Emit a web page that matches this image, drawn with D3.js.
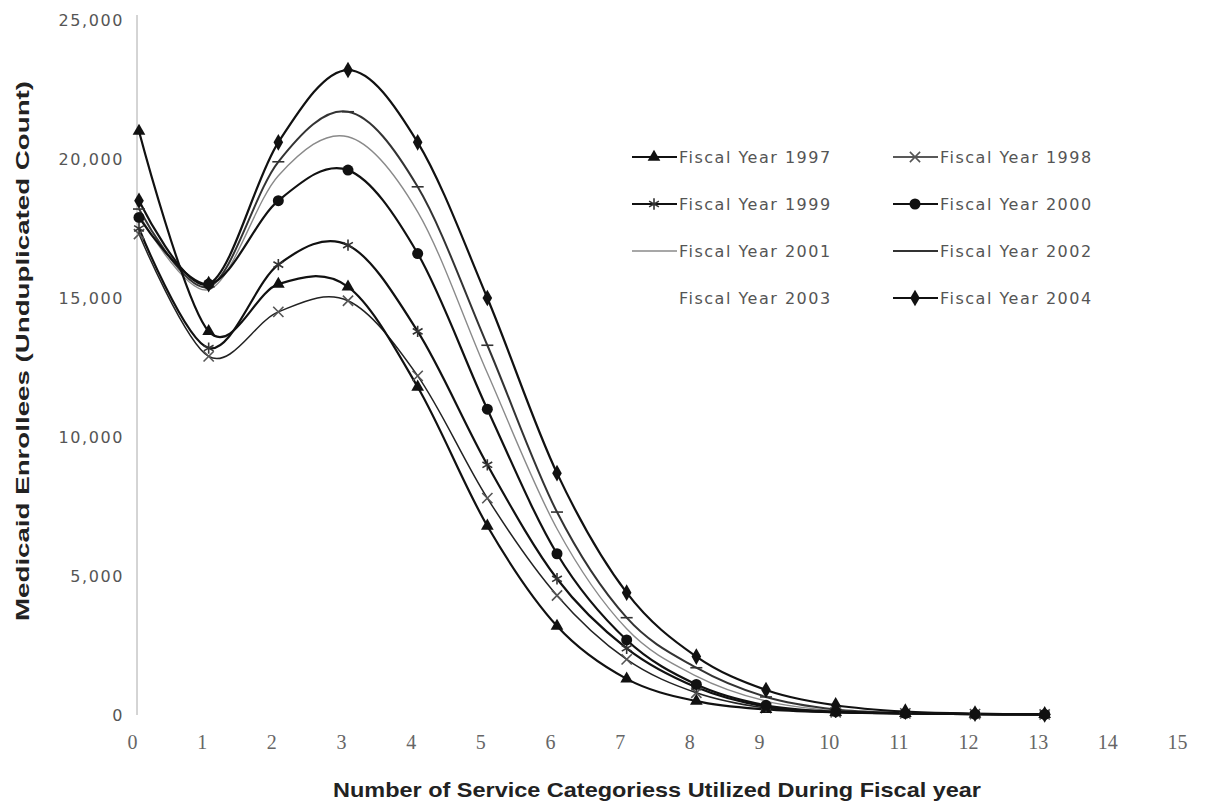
<!DOCTYPE html>
<html>
<head>
<meta charset="utf-8">
<script src="https://cdn.jsdelivr.net/npm/d3@7"></script>
<style>
  body { margin: 0; background: #fff; }
  svg { display: block; }
</style>
</head>
<body>
<svg id="chart" width="1212" height="812"></svg>
<script>
// number of service categories used (x values)
var categories = [0, 1, 2, 3, 4, 5, 6, 7, 8, 9, 10, 11, 12, 13];

// enrollees per fiscal year
var fy1997 = [21000, 13800, 15500, 15400, 11800, 6800, 3200, 1300, 500, 200, 100, 60, 30, 20];
var fy1998 = [17300, 12900, 14500, 14900, 12200, 7800, 4300, 2000, 800, 250, 100, 60, 30, 20];
var fy1999 = [17500, 13200, 16200, 16900, 13800, 9000, 4900, 2400, 1000, 300, 100, 60, 30, 20];
var fy2000 = [17900, 15500, 18500, 19600, 16600, 11000, 5800, 2700, 1100, 350, 120, 60, 30, 20];
var fy2001 = [18000, 15300, 19400, 20800, 18100, 12300, 6700, 3100, 1400, 500, 150, 70, 30, 20];
var fy2002 = [18200, 15400, 19900, 21700, 19000, 13300, 7300, 3500, 1700, 650, 200, 80, 40, 20];
var fy2003 = [18300, 15450, 20200, 22300, 19700, 14100, 8000, 3900, 1900, 800, 250, 90, 40, 20];
var fy2004 = [18500, 15500, 20600, 23200, 20600, 15000, 8700, 4400, 2100, 900, 350, 120, 50, 20];

var xTicks = [0, 1, 2, 3, 4, 5, 6, 7, 8, 9, 10, 11, 12, 13, 14, 15];
var yTicks = [0, 5000, 10000, 15000, 20000, 25000];

var seriesNames = ['Fiscal Year 1997', 'Fiscal Year 1998', 'Fiscal Year 1999', 'Fiscal Year 2000',
                   'Fiscal Year 2001', 'Fiscal Year 2002', 'Fiscal Year 2003', 'Fiscal Year 2004'];

var svg = d3.select('#chart');

var x = d3.scaleLinear().domain([0, 15]).range([139, 1184]);
var y = d3.scaleLinear().domain([0, 25000]).range([715, 20]);

// marker paths
var dashPath = 'M-6,0H6';
function sym(type, size) {
    return d3.symbol().type(type).size(size)();
}

var series = [
    { name: seriesNames[0], values: fy1997, stroke: '#111', width: 2.2, marker: sym(d3.symbolTriangle, 70), fill: '#111', mstroke: 'none' },
    { name: seriesNames[1], values: fy1998, stroke: '#222', width: 1.5, marker: sym(d3.symbolTimes, 70), fill: 'none', mstroke: '#555' },
    { name: seriesNames[2], values: fy1999, stroke: '#111', width: 2.2, marker: sym(d3.symbolAsterisk, 90), fill: 'none', mstroke: '#333' },
    { name: seriesNames[3], values: fy2000, stroke: '#111', width: 2.2, marker: sym(d3.symbolCircle, 95), fill: '#111', mstroke: 'none' },
    { name: seriesNames[4], values: fy2001, stroke: '#8a8a8a', width: 1.4, marker: null },
    { name: seriesNames[5], values: fy2002, stroke: '#333', width: 2.0, marker: dashPath, fill: 'none', mstroke: '#333' },
    { name: seriesNames[6], values: fy2003, stroke: '#fff', width: 1.5, marker: null },
    { name: seriesNames[7], values: fy2004, stroke: '#111', width: 2.2, marker: sym(d3.symbolDiamond, 80), fill: '#111', mstroke: 'none' }
];

// axes
var yAxis = d3.axisLeft(y).tickValues(yTicks).tickSize(0).tickPadding(15)
    .tickFormat(d3.format(','));
var gy = svg.append('g').attr('transform', 'translate(' + x(0) + ',0)').call(yAxis);
gy.select('.domain').remove();
gy.selectAll('text')
    .attr('font-family', 'DejaVu Sans, sans-serif')
    .attr('font-size', 16)
    .attr('letter-spacing', 1.6)
    .attr('fill', '#555');

svg.append('line')
    .attr('x1', x(0) - 2).attr('x2', x(0) - 2)
    .attr('y1', y(25000) - 5).attr('y2', y(0))
    .attr('stroke', '#aaa')
    .attr('stroke-width', 1);

var xAxis = d3.axisBottom(x).tickValues(xTicks).tickSize(0).tickPadding(0);
var gx = svg.append('g').attr('transform', 'translate(0,' + (y(0) + 20) + ')').call(xAxis);
gx.select('.domain').remove();
gx.selectAll('text')
    .attr('dx', -7)
    .attr('font-family', 'Liberation Serif, serif')
    .attr('font-size', 20)
    .attr('fill', '#666');

// axis titles
svg.append('text')
    .attr('x', 657).attr('y', 797)
    .attr('text-anchor', 'middle')
    .attr('font-family', 'Liberation Sans, sans-serif')
    .attr('font-weight', 'bold')
    .attr('font-size', 21)
    .attr('fill', '#222')
    .attr('textLength', 648)
    .attr('lengthAdjust', 'spacingAndGlyphs')
    .text('Number of Service Categoriess Utilized During Fiscal year');

svg.append('text')
    .attr('transform', 'translate(29,351) rotate(-90)')
    .attr('text-anchor', 'middle')
    .attr('font-family', 'Liberation Sans, sans-serif')
    .attr('font-weight', 'bold')
    .attr('font-size', 19)
    .attr('fill', '#222')
    .attr('textLength', 540)
    .attr('lengthAdjust', 'spacingAndGlyphs')
    .text('Medicaid Enrollees (Unduplicated Count)');

// lines
var line = d3.line()
    .x(function (d, i) { return x(categories[i]); })
    .y(function (d) { return y(d); })
    .curve(d3.curveCardinal.tension(0));

var drawOrder = [6, 4, 5, 1, 0, 2, 3, 7];

drawOrder.forEach(function (k) {
    var s = series[k];
    svg.append('path')
        .attr('d', line(s.values))
        .attr('fill', 'none')
        .attr('stroke', s.stroke)
        .attr('stroke-width', s.width);
});

drawOrder.forEach(function (k) {
    var s = series[k];
    if (!s.marker) return;
    svg.append('g').selectAll('path')
        .data(s.values)
        .enter()
        .append('path')
        .attr('transform', function (d, i) {
            return 'translate(' + x(categories[i]) + ',' + y(d) + ')';
        })
        .attr('d', s.marker)
        .attr('fill', s.fill)
        .attr('stroke', s.mstroke)
        .attr('stroke-width', 1.6);
});

// legend
var legCols = [632, 893];
var legRows = [157, 204, 251, 298];
var legend = svg.append('g');
series.forEach(function (s, i) {
    var lx = legCols[i % 2];
    var ly = legRows[Math.floor(i / 2)];
    var g = legend.append('g');
    g.append('line')
        .attr('x1', lx).attr('x2', lx + 45)
        .attr('y1', ly).attr('y2', ly)
        .attr('stroke', s.stroke)
        .attr('stroke-width', s.width);
    if (s.marker) {
        g.append('path')
            .attr('transform', 'translate(' + (lx + 22) + ',' + ly + ')')
            .attr('d', s.marker)
            .attr('fill', s.fill)
            .attr('stroke', s.mstroke)
            .attr('stroke-width', 1.6);
    }
    g.append('text')
        .attr('x', lx + 47)
        .attr('y', ly + 6)
        .attr('font-family', 'DejaVu Sans, sans-serif')
        .attr('font-size', 16)
        .attr('letter-spacing', 1.5)
        .attr('fill', '#555')
        .text(s.name);
});
</script>
</body>
</html>
